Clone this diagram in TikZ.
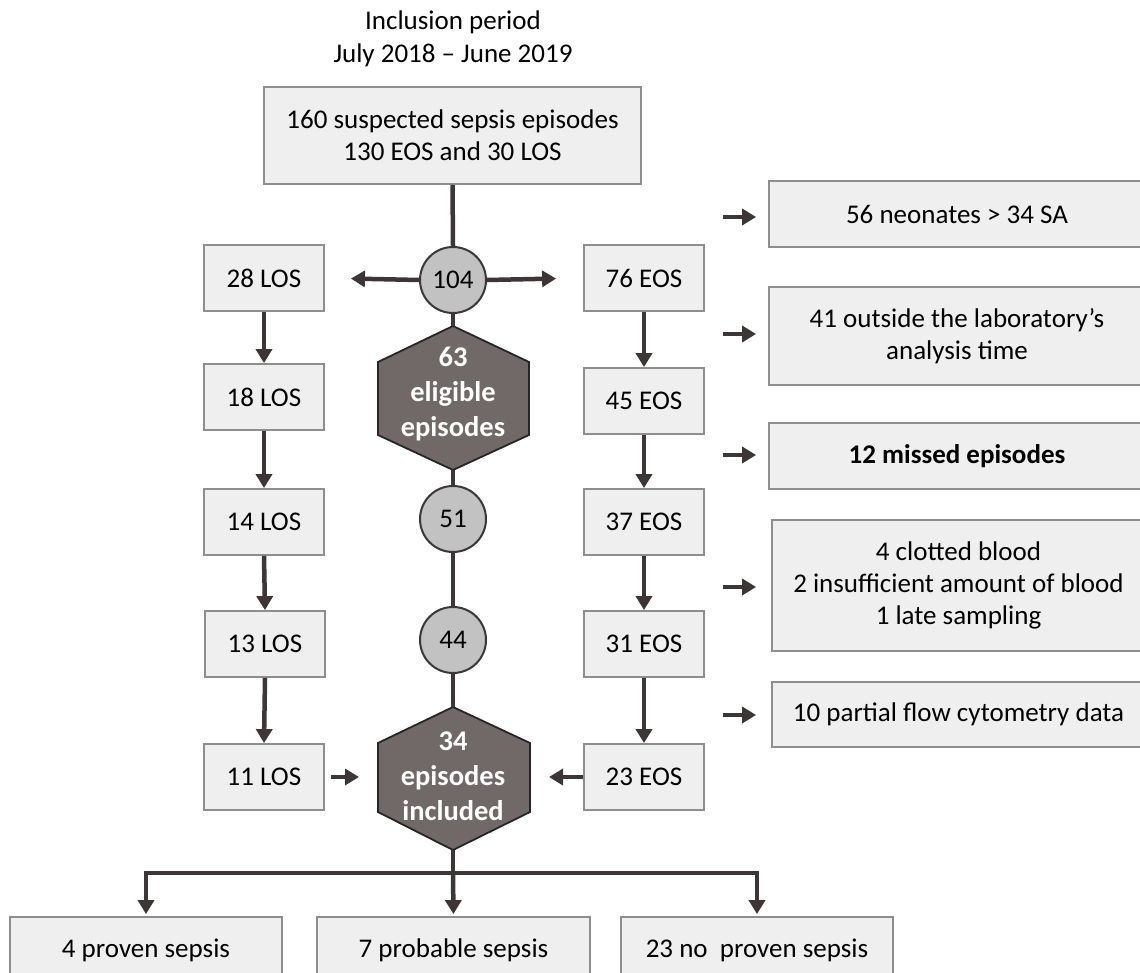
\documentclass[tikz,border=0pt]{standalone}
\usepackage{fontspec}
\setmainfont{Carlito}
\usetikzlibrary{arrows.meta}
\definecolor{boxfill}{HTML}{EFEFEF}
\definecolor{boxline}{HTML}{8E8E8E}
\definecolor{lineclr}{HTML}{3C3636}
\definecolor{circfill}{HTML}{C2C2C2}
\definecolor{hexfill}{HTML}{716868}
\begin{document}
\begin{tikzpicture}[x=1pt,y=-1pt,
  txt/.style={font=\fontsize{27}{33}\selectfont, align=center, inner sep=0pt},
  box/.style={draw=boxline, fill=boxfill, line width=1.8pt, inner sep=0pt, align=center, font=\fontsize{27}{32}\selectfont},
  smallbox/.style={box, minimum width=120pt, minimum height=66pt},
  exbox/.style={box, minimum width=376pt},
  botbox/.style={box, minimum width=272pt, minimum height=66pt},
  circ/.style={circle, draw=lineclr, fill=circfill, line width=2pt, minimum size=66pt, inner sep=0pt, font=\fontsize{27}{32}\selectfont},
  hex/.style={draw=black!85, fill=hexfill, line width=1.8pt},
  hextxt/.style={text=white, font=\fontsize{28.5}{35}\bfseries\selectfont, align=center, inner sep=0pt},
  conn/.style={draw=lineclr, line width=4.5pt},
  arr/.style={conn, -{Triangle[length=14pt,width=16pt]}},
]
\useasboundingbox (0,0) rectangle (1140,973);
\clip (0,0) rectangle (1140,973);

% title
\node[txt] (title) at (453,38.5) {Inclusion period\\July 2018 -- June 2019};

% top box
\node[box, minimum width=377pt, minimum height=97pt] (top) at (452.5,135.5) {160 suspected sepsis episodes\\130 EOS and 30 LOS};

% circles
\node[circ] (c104) at (453,280) {104};
\node[circ] (c51) at (453,519) {51};
\node[circ] (c44) at (453,640) {44};

% hexagon 1
\coordinate (h1t) at (453,326);
\coordinate (h1b) at (453,470);
\path[hex] (h1t) -- (529,362) -- (529,435) -- (h1b) -- (378,435) -- (378,362) -- cycle;
\node[hextxt] (h1) at (453,394) {63\\eligible\\episodes};

% hexagon 2
\coordinate (h2t) at (453,707);
\coordinate (h2b) at (453,850);
\coordinate (h2l) at (378,777);
\coordinate (h2r) at (530,777);
\path[hex] (h2t) -- (530,743) -- (530,812) -- (h2b) -- (378,812) -- (378,743) -- cycle;
\node[hextxt] (h2) at (453,776) {34\\episodes\\included};

% LOS column
\node[smallbox] (los28) at (264,278) {28 LOS};
\node[smallbox] (los18) at (264,397) {18 LOS};
\node[smallbox] (los14) at (264,522) {14 LOS};
\node[smallbox] (los13) at (265,644) {13 LOS};
\node[smallbox] (los11) at (264,777) {11 LOS};

% EOS column
\node[smallbox] (eos76) at (644,278) {76 EOS};
\node[smallbox] (eos45) at (644,401) {45 EOS};
\node[smallbox] (eos37) at (644,522) {37 EOS};
\node[smallbox] (eos31) at (644,644) {31 EOS};
\node[smallbox] (eos23) at (644,777) {23 EOS};

% exclusion boxes
\node[exbox, minimum height=66pt] (ex1) at (957,214) {56 neonates > 34 SA};
\node[exbox, minimum height=98pt] (ex2) at (957,336) {41 outside the laboratory’s\\analysis time};
\node[exbox, minimum height=66pt] (ex3) at (957,456) {\bfseries 12 missed episodes};
\node[exbox, minimum width=373pt, minimum height=131pt] (ex4) at (958.5,585.5) {4 clotted blood\\2 insufficient amount of blood\\1 late sampling};
\node[exbox, minimum width=373pt, minimum height=65pt] (ex5) at (958.5,714.5) {10 partial flow cytometry data};

\coordinate (a1) at (723,217);
\coordinate (a2) at (723,334);
\coordinate (a3) at (723,455);
\coordinate (a4) at (723,587);
\coordinate (a5) at (723,715);
\draw[arr, shorten >=12pt] (a1) -- (a1 -| ex1.west);
\draw[arr, shorten >=12pt] (a2) -- (a2 -| ex2.west);
\draw[arr, shorten >=12pt] (a3) -- (a3 -| ex3.west);
\draw[arr, shorten >=15pt] (a4) -- (a4 -| ex4.west);
\draw[arr, shorten >=15pt] (a5) -- (a5 -| ex5.west);

% bottom boxes
\node[botbox] (b1) at (146,950) {4 proven sepsis};
\node[botbox, minimum width=273pt] (b2) at (453.5,950) {7 probable sepsis};
\node[botbox] (b3) at (757,950) {23 no~~proven sepsis};

% central connectors
\draw[conn] (top.south) -- (c104.north);
\draw[conn] (c104.south) -- (h1t);
\draw[conn] (h1b) -- (c51.north);
\draw[conn] (c51.south) -- (c44.north);
\draw[conn] (c44.south) -- (h2t);
\draw[arr, shorten >=26pt] (c104.west) -- (los28.east);
\draw[arr, shorten >=27pt] (c104.east) -- (eos76.west);

% LOS arrows
\draw[arr] (los28.south) -- (los18.north);
\draw[arr] (los18.south) -- (los14.north);
\draw[arr] (los14.south) -- (los13.north);
\draw[arr] (los13.south) -- (los11.north);
% EOS arrows
\draw[arr] (eos76.south) -- (eos45.north);
\draw[arr] (eos45.south) -- (eos37.north);
\draw[arr] (eos37.south) -- (eos31.north);
\draw[arr] (eos31.south) -- (eos23.north);

% into hexagon 2
\draw[arr, shorten <=6pt, shorten >=19pt] (los11.east) -- (h2l);
\draw[arr, shorten >=19pt] (eos23.west) -- (h2r);

% bottom split
\coordinate (split) at (453,873);
\draw[conn] (h2b) -- (split);
\draw[arr, shorten >=2pt] (split) -| (b1.north);
\draw[arr, shorten >=2pt] (split) -| (b3.north);
\draw[arr, shorten >=2pt] (split) -- (b2.north);
\end{tikzpicture}
\end{document}
